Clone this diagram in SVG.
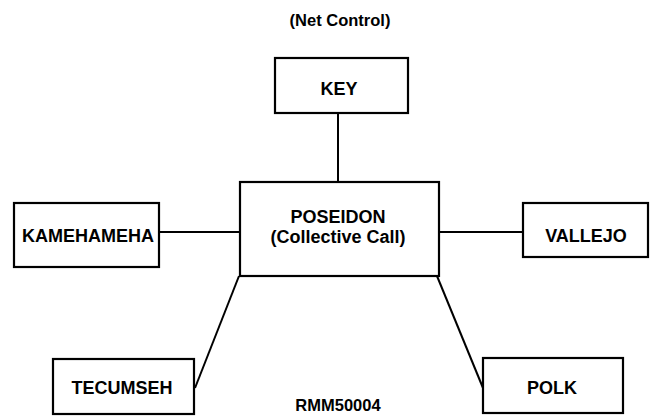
<svg xmlns="http://www.w3.org/2000/svg" width="653" height="416" viewBox="0 0 653 416">
<style>
.box{fill:#fff;stroke:#000;stroke-width:2.2}
.t{font-family:"Liberation Sans",Arial,sans-serif;font-weight:bold;font-size:18px;fill:#000;text-anchor:middle}
.s{font-size:16.5px}
.c{stroke:#000;stroke-width:2;fill:none}
</style>
<rect width="653" height="416" fill="#fff"/>
<g id="connectors">
<line class="c" x1="338" y1="113" x2="338" y2="182"/>
<line class="c" x1="159" y1="232" x2="240" y2="232"/>
<line class="c" x1="439" y1="232" x2="523" y2="232"/>
<line class="c" x1="239" y1="276" x2="195" y2="388"/>
<line class="c" x1="437" y1="276" x2="483" y2="388"/>
</g>
<text class="t s" x="340" y="26">(Net Control)</text>
<g id="key"><rect class="box" x="275" y="58" width="133" height="55"/><text class="t" x="339" y="95">KEY</text></g>
<g id="poseidon"><rect class="box" x="240" y="182" width="199" height="94"/><text class="t" x="338" y="223">POSEIDON</text><text class="t" x="338" y="243">(Collective Call)</text></g>
<g id="kamehameha"><rect class="box" x="14" y="203" width="145" height="64"/><text class="t" x="88" y="242">KAMEHAMEHA</text></g>
<g id="vallejo"><rect class="box" x="523" y="203" width="125" height="54"/><text class="t" x="586" y="242">VALLEJO</text></g>
<g id="tecumseh"><rect class="box" x="53" y="359" width="141" height="55"/><text class="t" x="122" y="394">TECUMSEH</text></g>
<g id="polk"><rect class="box" x="483" y="358" width="140" height="55"/><text class="t" x="552" y="394">POLK</text></g>
<text class="t s" x="338" y="411">RMM50004</text>
</svg>
